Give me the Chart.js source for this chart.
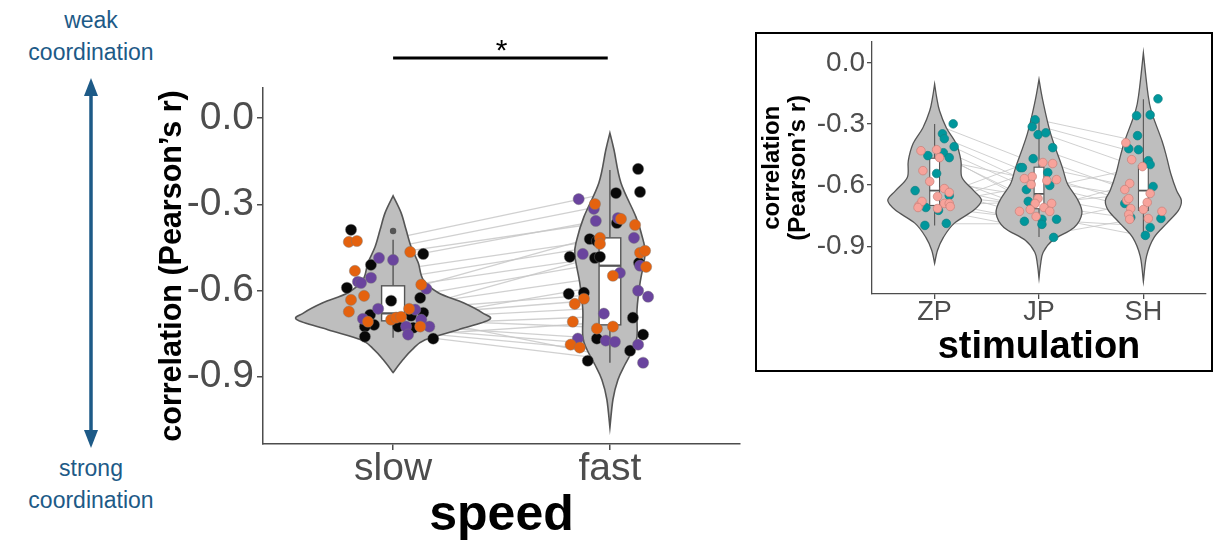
<!DOCTYPE html>
<html><head><meta charset="utf-8">
<script src="https://cdn.jsdelivr.net/npm/chart.js@4.4.0/dist/chart.umd.min.js"></script>
<style>
body{margin:0;width:1218px;height:546px;background:#fff;position:relative;overflow:hidden;font-family:"Liberation Sans",Arial,sans-serif}
#mainWrap{position:absolute;left:130px;top:0;width:620px;height:546px}
#insetBox{position:absolute;left:755px;top:32px;width:454px;height:336px;border:2px solid #000;background:#fff}
.note{position:absolute;color:#1d5a87;font-size:23px;text-align:center;width:180px;left:1px;line-height:32px}
svg{position:absolute;left:0;top:0}
</style></head><body>
<div class="note" style="top:4px">weak<br>coordination</div>
<div class="note" style="top:452px">strong<br>coordination</div>
<svg width="182" height="546"><line x1="91" y1="90" x2="91" y2="436" stroke="#1d5a87" stroke-width="3.5"/>
<polygon points="91,78 84,96 98,96" fill="#1d5a87"/><polygon points="91,448 84,430 98,430" fill="#1d5a87"/></svg>
<div id="mainWrap"><canvas id="mainChart" width="620" height="546"></canvas></div>
<div id="insetBox"><canvas id="insetChart" width="454" height="336"></canvas></div>
<script>
// ---------- data: main chart (speed) ----------
const speedCats = ['slow', 'fast'];
const yTicks = [0, -0.3, -0.6, -0.9];
// jittered points: [offset from category, correlation]
const slowBlack = [[-0.194,-0.389],[0.139,-0.473],[-0.102,-0.511],[-0.213,-0.591],[0.125,-0.626],[-0.009,-0.636],[-0.106,-0.685],[-0.088,-0.720],[-0.130,-0.726],[-0.130,-0.761],[0.023,-0.726],[0.083,-0.688],[0.139,-0.678],[0.093,-0.730],[0.185,-0.768]];
const slowPurple = [[-0.065,-0.487],[0.0,-0.494],[-0.102,-0.556],[-0.162,-0.570],[-0.148,-0.574],[0.153,-0.594],[-0.069,-0.664],[-0.139,-0.699],[0.102,-0.667],[0.130,-0.702],[0.060,-0.726],[0.069,-0.754],[0.167,-0.726]];
const slowOrange = [[-0.204,-0.431],[-0.167,-0.428],[0.079,-0.466],[-0.176,-0.532],[0.130,-0.580],[-0.194,-0.633],[-0.134,-0.619],[-0.204,-0.674],[-0.116,-0.709],[-0.009,-0.702],[0.014,-0.695],[0.037,-0.692],[0.074,-0.664],[0.125,-0.726]];
const fastBlack = [[0.130,-0.177],[0.139,-0.257],[0.028,-0.261],[0.032,-0.365],[-0.093,-0.421],[-0.060,-0.428],[-0.185,-0.483],[-0.069,-0.487],[-0.046,-0.483],[0.134,-0.504],[-0.190,-0.612],[-0.120,-0.608],[0.106,-0.695],[-0.060,-0.768],[0.153,-0.754],[0.093,-0.810],[-0.102,-0.845]];
const fastPurple = [[-0.144,-0.282],[-0.074,-0.316],[-0.065,-0.358],[0.037,-0.348],[0.111,-0.417],[-0.125,-0.473],[0.139,-0.514],[0.046,-0.539],[0.130,-0.601],[0.176,-0.622],[-0.028,-0.681],[-0.148,-0.768],[-0.019,-0.775],[0.023,-0.779],[0.130,-0.789],[0.153,-0.852]];
const fastOrange = [[-0.069,-0.299],[0.051,-0.351],[0.116,-0.372],[-0.046,-0.417],[-0.046,-0.438],[0.139,-0.469],[0.162,-0.462],[0.167,-0.518],[0.014,-0.549],[-0.120,-0.629],[-0.162,-0.647],[-0.171,-0.709],[-0.060,-0.733],[0.014,-0.726],[-0.181,-0.789],[-0.139,-0.799]];
// paired participants: [slow, fast]
const speedPairs = [[-0.42,-0.26],[-0.45,-0.30],[-0.47,-0.36],[-0.49,-0.35],[-0.53,-0.42],[-0.56,-0.44],[-0.59,-0.48],[-0.61,-0.40],[-0.63,-0.50],[-0.66,-0.55],[-0.67,-0.61],[-0.68,-0.47],[-0.69,-0.63],[-0.70,-0.66],[-0.70,-0.73],[-0.71,-0.58],[-0.72,-0.77],[-0.72,-0.69],[-0.73,-0.79],[-0.74,-0.81],[-0.75,-0.84],[-0.76,-0.71],[-0.68,-0.83]];
// violin density: [correlation, half width]
const slowViolin = [[-0.271,0],[-0.330,0.037],[-0.389,0.060],[-0.448,0.083],[-0.504,0.116],[-0.563,0.139],[-0.608,0.208],[-0.643,0.324],[-0.678,0.412],[-0.702,0.444],[-0.737,0.301],[-0.772,0.148],[-0.806,0.088],[-0.841,0.046],[-0.886,0]];
const fastViolin = [[-0.052,0],[-0.111,0.019],[-0.226,0.051],[-0.344,0.120],[-0.424,0.153],[-0.476,0.162],[-0.574,0.139],[-0.667,0.125],[-0.761,0.125],[-0.806,0.106],[-0.859,0.069],[-0.911,0.037],[-0.980,0.014],[-1.078,0]];
// box: [lower whisker, Q1, median, Q3, upper whisker]
const slowBox = [-0.765,-0.706,-0.680,-0.584,-0.424];
const fastBox = [-0.852,-0.720,-0.514,-0.417,-0.181];
const slowOutliers = [-0.393];

// ---------- data: inset (stimulation) ----------
const stimCats = ['ZP', 'JP', 'SH'];
const zpTeal = [[0.178,-0.299],[0.075,-0.348],[0.093,-0.372],[0.187,-0.411],[-0.065,-0.455],[0.084,-0.441],[0.140,-0.465],[0.019,-0.543],[-0.187,-0.627],[0.140,-0.651],[-0.084,-0.710],[0.037,-0.724],[-0.093,-0.798],[0.112,-0.788]];
const zpSalmon = [[-0.131,-0.431],[0.019,-0.426],[0.047,-0.465],[-0.112,-0.529],[-0.047,-0.582],[0.093,-0.617],[0.140,-0.636],[0.028,-0.656],[-0.150,-0.700],[-0.121,-0.680],[0.093,-0.690],[0.140,-0.690],[0.150,-0.705],[0.028,-0.715],[-0.159,-0.710]];
const jpTeal = [[-0.037,-0.279],[-0.065,-0.313],[-0.009,-0.352],[0.065,-0.343],[0.131,-0.416],[-0.056,-0.470],[-0.178,-0.514],[-0.159,-0.514],[0.084,-0.538],[0.103,-0.602],[-0.121,-0.622],[-0.103,-0.680],[-0.140,-0.778],[0.028,-0.768],[0.028,-0.793],[0.168,-0.768],[0.140,-0.857]];
const jpSalmon = [[0.037,-0.489],[0.131,-0.494],[-0.065,-0.558],[-0.140,-0.568],[-0.075,-0.597],[0.075,-0.578],[0.168,-0.573],[-0.009,-0.666],[-0.037,-0.690],[0.121,-0.690],[0.047,-0.710],[0.103,-0.729],[-0.084,-0.720],[-0.187,-0.729],[-0.028,-0.754]];
const shTeal = [[0.140,-0.176],[-0.065,-0.259],[0.065,-0.255],[-0.056,-0.357],[-0.140,-0.421],[-0.047,-0.426],[0.047,-0.480],[0.065,-0.499],[0.093,-0.607],[-0.178,-0.690],[-0.121,-0.759],[0.168,-0.764],[0.065,-0.808],[0.019,-0.847]];
const shSalmon = [[-0.168,-0.392],[-0.112,-0.475],[-0.009,-0.509],[-0.131,-0.592],[-0.178,-0.622],[0.065,-0.641],[-0.159,-0.675],[-0.140,-0.666],[0.037,-0.685],[-0.121,-0.715],[0.0,-0.720],[0.178,-0.729],[-0.140,-0.744],[-0.131,-0.768],[0.047,-0.764]];
const zpjpPairs = [[-0.30,-0.50],[-0.35,-0.56],[-0.37,-0.61],[-0.41,-0.64],[-0.44,-0.69],[-0.47,-0.58],[-0.43,-0.71],[-0.54,-0.73],[-0.58,-0.66],[-0.62,-0.76],[-0.65,-0.70],[-0.68,-0.78],[-0.69,-0.60],[-0.70,-0.52],[-0.71,-0.77],[-0.72,-0.82],[-0.79,-0.79],[-0.66,-0.47],[-0.60,-0.72],[-0.70,-0.68]];
const jpshPairs = [[-0.28,-0.39],[-0.31,-0.45],[-0.34,-0.52],[-0.42,-0.60],[-0.47,-0.65],[-0.51,-0.62],[-0.55,-0.70],[-0.58,-0.66],[-0.60,-0.72],[-0.66,-0.75],[-0.70,-0.77],[-0.72,-0.58],[-0.77,-0.80],[-0.79,-0.68],[-0.85,-0.76],[-0.75,-0.85],[-0.69,-0.64],[-0.62,-0.51]];
const zpViolin = [[-0.104,0],[-0.17,0.02],[-0.235,0.047],[-0.318,0.112],[-0.396,0.206],[-0.480,0.252],[-0.563,0.262],[-0.627,0.374],[-0.675,0.449],[-0.724,0.374],[-0.788,0.187],[-0.857,0.084],[-0.920,0.028],[-0.985,0]];
const jpViolin = [[-0.080,0],[-0.186,0.037],[-0.348,0.112],[-0.514,0.224],[-0.592,0.271],[-0.675,0.374],[-0.739,0.411],[-0.808,0.336],[-0.871,0.131],[-0.93,0.04],[-0.99,0.015],[-1.058,0]];
const shViolin = [[0.050,0],[-0.137,0.040],[-0.235,0.075],[-0.382,0.178],[-0.465,0.224],[-0.543,0.262],[-0.627,0.318],[-0.675,0.364],[-0.724,0.336],[-0.788,0.224],[-0.857,0.103],[-0.95,0.03],[-1.075,0]];
const zpBox = [-0.798,-0.700,-0.627,-0.468,-0.300];
const jpBox = [-0.855,-0.716,-0.643,-0.512,-0.284];
const shBox = [-0.855,-0.724,-0.627,-0.504,-0.178];

// ---------- drawing helpers ----------
const FONT = "'Liberation Sans', Arial, sans-serif";
const GREY = '#4d4d4d';
function toPts(arr, cat){ return arr.map(([d,v]) => ({x: cat + d, y: v})); }
function spline(ctx, pts){
  for (let i = 0; i < pts.length - 1; i++){
    const p0 = pts[Math.max(i-1,0)], p1 = pts[i], p2 = pts[i+1], p3 = pts[Math.min(i+2, pts.length-1)];
    ctx.bezierCurveTo(p1[0]+(p2[0]-p0[0])/6, p1[1]+(p2[1]-p0[1])/6, p2[0]-(p3[0]-p1[0])/6, p2[1]-(p3[1]-p1[1])/6, p2[0], p2[1]);
  }
}
function drawViolin(ctx, xs, ys, cat, prof, lw){
  const right = prof.map(([v,h]) => [xs.getPixelForValue(cat+h), ys.getPixelForValue(v)]);
  const left = prof.slice().reverse().map(([v,h]) => [xs.getPixelForValue(cat-h), ys.getPixelForValue(v)]);
  ctx.beginPath();
  ctx.moveTo(right[0][0], right[0][1]);
  spline(ctx, right);
  spline(ctx, left);
  ctx.closePath();
  ctx.fillStyle = '#bebebe';
  ctx.fill();
  ctx.strokeStyle = '#555';
  ctx.lineWidth = lw;
  ctx.stroke();
}
function drawBox(ctx, xs, ys, cat, b, hw, lw){
  const cx = xs.getPixelForValue(cat);
  const x0 = xs.getPixelForValue(cat-hw), x1 = xs.getPixelForValue(cat+hw);
  ctx.strokeStyle = '#555'; ctx.lineWidth = lw;
  ctx.beginPath();
  ctx.moveTo(cx, ys.getPixelForValue(b[4])); ctx.lineTo(cx, ys.getPixelForValue(b[3]));
  ctx.moveTo(cx, ys.getPixelForValue(b[1])); ctx.lineTo(cx, ys.getPixelForValue(b[0]));
  ctx.stroke();
  const yt = ys.getPixelForValue(b[3]), yb = ys.getPixelForValue(b[1]);
  ctx.fillStyle = '#fff';
  ctx.fillRect(x0, yt, x1-x0, yb-yt);
  ctx.strokeRect(x0, yt, x1-x0, yb-yt);
  ctx.beginPath();
  const ym = ys.getPixelForValue(b[2]);
  ctx.lineWidth = lw*1.6;
  ctx.moveTo(x0, ym); ctx.lineTo(x1, ym); ctx.stroke();
}
function drawPairs(ctx, xs, ys, c1, c2, pairs, lw){
  ctx.strokeStyle = 'rgba(200,200,200,0.85)'; ctx.lineWidth = lw;
  pairs.forEach(([a,b]) => {
    ctx.beginPath();
    ctx.moveTo(xs.getPixelForValue(c1), ys.getPixelForValue(a));
    ctx.lineTo(xs.getPixelForValue(c2), ys.getPixelForValue(b));
    ctx.stroke();
  });
}
function pointDs(data, color, r, border){
  return {data, backgroundColor: color, borderColor: border, borderWidth: 0.7, pointRadius: r, pointHoverRadius: r};
}

// ---------- main chart ----------
const mainPlugin = {
  id: 'mainDecor',
  beforeDatasetsDraw(chart){
    const {ctx, scales:{x, y}} = chart;
    ctx.save();
    drawPairs(ctx, x, y, 1, 2, speedPairs, 1.3);
    drawViolin(ctx, x, y, 1, slowViolin, 1.6);
    drawViolin(ctx, x, y, 2, fastViolin, 1.6);
    drawBox(ctx, x, y, 1, slowBox, 0.053, 1.4);
    drawBox(ctx, x, y, 2, fastBox, 0.05, 1.4);
    ctx.fillStyle = '#555';
    slowOutliers.forEach(v => { ctx.beginPath(); ctx.arc(x.getPixelForValue(1), y.getPixelForValue(v), 3.2, 0, Math.PI*2); ctx.fill(); });
    ctx.restore();
  },
  afterDraw(chart){
    const {ctx, scales:{x}} = chart;
    ctx.save();
    ctx.strokeStyle = '#000'; ctx.lineWidth = 3;
    ctx.beginPath(); ctx.moveTo(x.getPixelForValue(1), 58); ctx.lineTo(x.getPixelForValue(1.99), 58); ctx.stroke();
    ctx.fillStyle = '#000'; ctx.font = '30px ' + FONT; ctx.textAlign = 'center'; ctx.textBaseline = 'alphabetic';
    ctx.fillText('*', x.getPixelForValue(1.5), 60);
    ctx.restore();
  }
};

new Chart(document.getElementById('mainChart'), {
  type: 'scatter',
  data: { datasets: [
    pointDs(toPts(slowOrange,1).concat(toPts(fastOrange,2)), '#e4620f', 5.6, 'rgba(120,120,120,0.6)'),
    pointDs(toPts(slowPurple,1).concat(toPts(fastPurple,2)), '#6a449e', 5.6, 'rgba(120,120,120,0.6)'),
    pointDs(toPts(slowBlack,1).concat(toPts(fastBlack,2)), '#080808', 5.6, 'rgba(120,120,120,0.6)')
  ]},
  options: {
    responsive: false, animation: false, devicePixelRatio: 1,
    layout: { padding: { top: 88, right: 10, left: 0, bottom: 0 } },
    plugins: { legend: { display: false }, tooltip: { enabled: false } },
    scales: {
      x: {
        type: 'linear', min: 0.4, max: 2.6,
        afterBuildTicks: s => { s.ticks = speedCats.map((c,i) => ({value: i+1})); },
        afterFit: s => { s.height = 102; },
        ticks: { callback: (v, i) => speedCats[i], font: { size: 39, family: FONT, lineHeight: 1 }, color: GREY, padding: 0, maxRotation: 0, minRotation: 0, autoSkip: false },
        grid: { drawOnChartArea: false, tickLength: 6, color: GREY, lineWidth: 1.5 },
        border: { color: GREY, width: 1.5 },
        title: { display: true, text: 'speed', font: { size: 50, weight: 'bold', family: FONT }, color: '#000', padding: 0 }
      },
      y: {
        min: -1.135, max: 0.105,
        afterBuildTicks: s => { s.ticks = yTicks.map(v => ({value: v})); },
        afterFit: s => { s.width = 133; },
        ticks: { callback: v => Number(v).toFixed(1), font: { size: 39, family: FONT }, color: GREY, padding: 3 },
        grid: { drawOnChartArea: false, tickLength: 6, color: GREY, lineWidth: 1.5 },
        border: { color: GREY, width: 1.5 },
        title: { display: true, text: 'correlation (Pearson\u2019s r)', font: { size: 30.5, weight: 'bold', family: FONT }, color: '#000', padding: { top: 24, bottom: 0 } }
      }
    }
  },
  plugins: [mainPlugin]
});

// ---------- inset chart ----------
const insetPlugin = {
  id: 'insetDecor',
  beforeDatasetsDraw(chart){
    const {ctx, scales:{x, y}} = chart;
    ctx.save();
    drawPairs(ctx, x, y, 1, 2, zpjpPairs, 1);
    drawPairs(ctx, x, y, 2, 3, jpshPairs, 1);
    drawViolin(ctx, x, y, 1, zpViolin, 1.3);
    drawViolin(ctx, x, y, 2, jpViolin, 1.3);
    drawViolin(ctx, x, y, 3, shViolin, 1.3);
    drawBox(ctx, x, y, 1, zpBox, 0.047, 1.1);
    drawBox(ctx, x, y, 2, jpBox, 0.047, 1.1);
    drawBox(ctx, x, y, 3, shBox, 0.047, 1.1);
    ctx.restore();
  }
};

new Chart(document.getElementById('insetChart'), {
  type: 'scatter',
  data: { datasets: [
    pointDs(toPts(zpSalmon,1).concat(toPts(jpSalmon,2), toPts(shSalmon,3)), '#f7a39b', 4.3, '#c98078'),
    pointDs(toPts(zpTeal,1).concat(toPts(jpTeal,2), toPts(shTeal,3)), '#00979c', 4.3, '#137f83')
  ]},
  options: {
    responsive: false, animation: false, devicePixelRatio: 1,
    layout: { padding: { top: 6, right: 0, left: 0, bottom: 0 } },
    plugins: { legend: { display: false }, tooltip: { enabled: false } },
    scales: {
      x: {
        type: 'linear', min: 0.4, max: 3.6,
        afterBuildTicks: s => { s.ticks = stimCats.map((c,i) => ({value: i+1})); },
        afterFit: s => { s.height = 76; },
        ticks: { callback: (v, i) => stimCats[i], font: { size: 27, family: FONT, lineHeight: 1 }, color: GREY, padding: 0, maxRotation: 0, minRotation: 0, autoSkip: false },
        grid: { drawOnChartArea: false, tickLength: 5, color: GREY, lineWidth: 1.3 },
        border: { color: GREY, width: 1.3 },
        title: { display: true, text: 'stimulation', font: { size: 38, weight: 'bold', family: FONT }, color: '#000', padding: 0 }
      },
      y: {
        min: -1.135, max: 0.105,
        afterBuildTicks: s => { s.ticks = yTicks.map(v => ({value: v})); },
        afterFit: s => { s.width = 115; },
        ticks: { callback: v => Number(v).toFixed(1), font: { size: 28, family: FONT, lineHeight: 0.4 }, color: GREY, padding: 2 },
        grid: { drawOnChartArea: false, tickLength: 5, color: GREY, lineWidth: 1.3 },
        border: { color: GREY, width: 1.3 },
        title: { display: true, text: ['correlation', '(Pearson\u2019s r)'], font: { size: 24, weight: 'bold', family: FONT, lineHeight: 1.12 }, color: '#000', padding: { top: 1.5, bottom: 0 } }
      }
    }
  },
  plugins: [insetPlugin]
});
</script>
</body></html>
